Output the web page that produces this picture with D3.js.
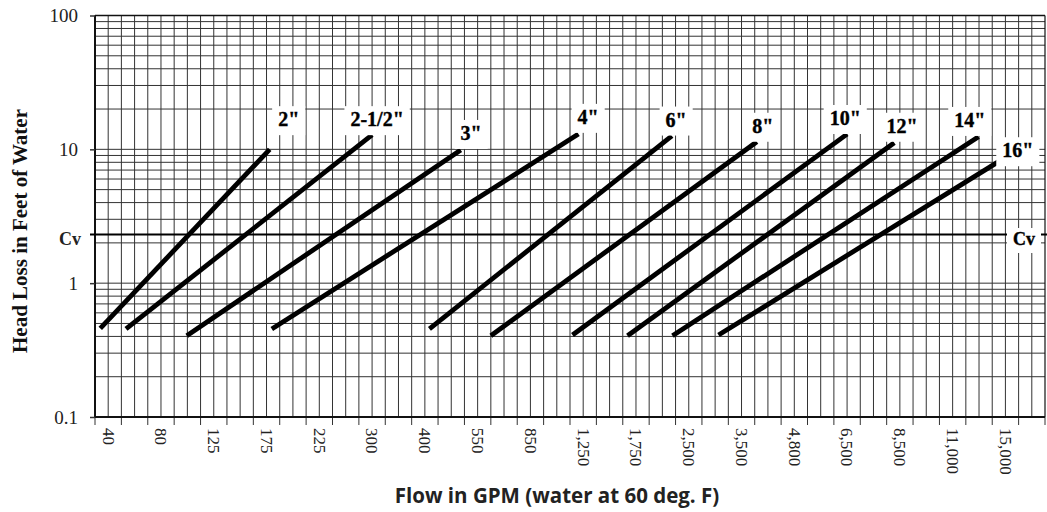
<!DOCTYPE html>
<html>
<head>
<meta charset="utf-8">
<script src="https://cdn.jsdelivr.net/npm/d3@7"></script>
<style>
  body { margin: 0; background: #fff; }
  svg { display: block; }
</style>
</head>
<body>
<svg id="chart" width="1047" height="512"></svg>
<script>
// Flow axis labels (GPM) – placed every fourth grid column
const flowTicks = [40, 80, 125, 175, 225, 300, 400, 550, 850, 1250, 1750, 2500, 3500, 4800, 6500, 8500, 11000, 15000];
const flowTickLabels = ["40", "80", "125", "175", "225", "300", "400", "550", "850", "1,250", "1,750", "2,500", "3,500", "4,800", "6,500", "8,500", "11,000", "15,000"];

// Head loss axis (feet of water, log scale)
const headTicks = [0.1, 1, 10, 100];
const headTickLabels = ["0.1", "1", "10", "100"];

// Valve sizes and their head-loss lines (start / end points)
const pipeSizes = ['2"', '2-1/2"', '3"', '4"', '6"', '8"', '10"', '12"', '14"', '16"'];
const flowStart = [34, 53.5, 102, 180, 413, 625, 1169, 1670, 2269, 3064];
const headStart = [0.46, 0.455, 0.405, 0.455, 0.455, 0.405, 0.41, 0.405, 0.405, 0.41];
const flowEnd = [178, 300, 502, 1214, 2260, 3877, 6500, 8288, 12960, 14480];
const headEnd = [10, 12.8, 9.9, 13.0, 12.6, 11.4, 13.0, 11.2, 12.4, 8.09];

// Where each size label sits (flow, head at text baseline)
const labelFlow = [196, 309.5, 531.5, 1297, 2321, 4023, 6440, 8600, 12300, 15940];
const labelHead = [14.9, 14.9, 11.75, 15.5, 14.8, 13.3, 15.2, 13.3, 14.7, 8.73];

// Head loss equal to 1 psi (Cv reference)
const cvHead = 2.31;

const W = 1047, H = 512;
const plot = { left: 95, right: 1045, top: 15.5, bottom: 417 };
const cols = 72;
const cell = (plot.right - plot.left) / cols;

const svg = d3.select("#chart");

// Flow scale: labelled values sit on evenly spaced grid columns
const x = d3.scaleLinear()
  .domain(flowTicks)
  .range(flowTicks.map((d, i) => plot.left + cell * (1 + 4 * i)));

const y = d3.scaleLog().domain([0.1, 100]).range([plot.bottom, plot.top]);

const serif = "'Liberation Serif', 'Times New Roman', serif";

// ---- grid ----
const grid = svg.append("g").attr("stroke", "#333").attr("stroke-width", 1);
grid.selectAll("line.v")
  .data(d3.range(1, cols))
  .join("line")
  .attr("class", "v")
  .attr("x1", k => plot.left + k * cell)
  .attr("x2", k => plot.left + k * cell)
  .attr("y1", plot.top)
  .attr("y2", plot.bottom);

grid.selectAll("line.h")
  .data(y.ticks().filter(v => v > 0.1 && v < 100))
  .join("line")
  .attr("class", "h")
  .attr("x1", plot.left)
  .attr("x2", plot.right)
  .attr("y1", d => y(d))
  .attr("y2", d => y(d));

// small ticks under the flow axis, every second column
svg.append("g").attr("stroke", "#333").attr("stroke-width", 1)
  .selectAll("line")
  .data(d3.range(0, cols + 1, 2))
  .join("line")
  .attr("x1", k => plot.left + k * cell)
  .attr("x2", k => plot.left + k * cell)
  .attr("y1", plot.bottom)
  .attr("y2", plot.bottom + 8);

// ---- frame ----
const frame = svg.append("g").attr("stroke", "#111");
frame.append("line").attr("x1", plot.left).attr("x2", plot.right).attr("y1", plot.top).attr("y2", plot.top).attr("stroke-width", 1.5);
frame.append("line").attr("x1", plot.right).attr("x2", plot.right).attr("y1", plot.top).attr("y2", plot.bottom).attr("stroke-width", 1.2);
frame.append("line").attr("x1", plot.left).attr("x2", plot.left).attr("y1", plot.top).attr("y2", plot.bottom + 1).attr("stroke-width", 2);
frame.append("line").attr("x1", plot.left - 1).attr("x2", plot.right).attr("y1", plot.bottom).attr("y2", plot.bottom).attr("stroke-width", 2);

// ---- head loss axis ----
const yAxis = svg.append("g")
  .attr("transform", `translate(${plot.left},0)`)
  .call(d3.axisLeft(y).tickValues(headTicks).tickFormat((d, i) => headTickLabels[i]).tickSize(5).tickPadding(12));
yAxis.select(".domain").remove();
yAxis.selectAll(".tick line").attr("stroke", "#333").attr("stroke-width", 1.5);
yAxis.selectAll(".tick text")
  .attr("fill", "#222")
  .style("font-family", serif)
  .style("font-size", "19px");

// ---- flow axis labels (rotated) ----
svg.append("g")
  .selectAll("text")
  .data(flowTicks)
  .join("text")
  .attr("transform", d => `translate(${x(d)},${plot.bottom + 11}) rotate(90)`)
  .attr("dy", "0.33em")
  .attr("text-anchor", "start")
  .attr("fill", "#222")
  .style("font-family", serif)
  .style("font-size", "17px")
  .text((d, i) => flowTickLabels[i]);

// ---- Cv reference line ----
svg.append("line")
  .attr("x1", plot.left - 5)
  .attr("x2", W)
  .attr("y1", y(cvHead))
  .attr("y2", y(cvHead))
  .attr("stroke", "#000")
  .attr("stroke-width", 2);

svg.append("text")
  .attr("x", 81)
  .attr("y", y(cvHead) + 10.5)
  .attr("text-anchor", "end")
  .attr("fill", "#222")
  .style("font-family", serif)
  .style("font-weight", "bold")
  .style("font-size", "18px")
  .text("Cv");

function boxedLabel(parent, px, py, txt, size, pad) {
  const grp = parent.append("g");
  const t = grp.append("text")
    .attr("x", px)
    .attr("y", py)
    .attr("text-anchor", "middle")
    .attr("fill", "#000")
    .attr("stroke", "#000")
    .attr("stroke-width", 0.4)
    .style("font-family", serif)
    .style("font-weight", "bold")
    .style("font-size", size + "px")
    .text(txt);
  const bb = t.node().getBBox();
  grp.insert("rect", "text")
    .attr("x", bb.x - pad[0])
    .attr("y", bb.y - pad[1])
    .attr("width", bb.width + 2 * pad[0])
    .attr("height", bb.height + pad[1] + pad[2])
    .attr("fill", "#fff");
}

boxedLabel(svg, plot.right - 21, y(cvHead) + 10.5, "Cv", 18, [6, 1, 4]);

// ---- valve head-loss lines ----
const pipes = pipeSizes.map((s, i) => ({
  size: s,
  pts: [[flowStart[i], headStart[i]], [flowEnd[i], headEnd[i]]],
  label: [labelFlow[i], labelHead[i]]
}));

const line = d3.line().x(d => x(d[0])).y(d => y(d[1]));

svg.append("g")
  .selectAll("path")
  .data(pipes)
  .join("path")
  .attr("d", d => line(d.pts))
  .attr("fill", "none")
  .attr("stroke", "#000")
  .attr("stroke-width", 4.8)
  .attr("stroke-linecap", "butt");

const labels = svg.append("g");
pipes.forEach(p => {
  boxedLabel(labels, x(p.label[0]), y(p.label[1]), p.size, 20, [6, 2, 5]);
});

// ---- axis titles ----
svg.append("text")
  .attr("transform", "translate(27,231) rotate(-90)")
  .attr("text-anchor", "middle")
  .attr("fill", "#111")
  .style("font-family", serif)
  .style("font-weight", "bold")
  .style("font-size", "21px")
  .text("Head Loss in Feet of Water");

svg.append("text")
  .attr("x", 557)
  .attr("y", 503)
  .attr("text-anchor", "middle")
  .attr("fill", "#222")
  .style("font-family", "'Open Sans', sans-serif")
  .style("font-weight", "700")
  .style("font-size", "20.5px")
  .text("Flow in GPM (water at 60 deg. F)");
</script>
</body>
</html>
